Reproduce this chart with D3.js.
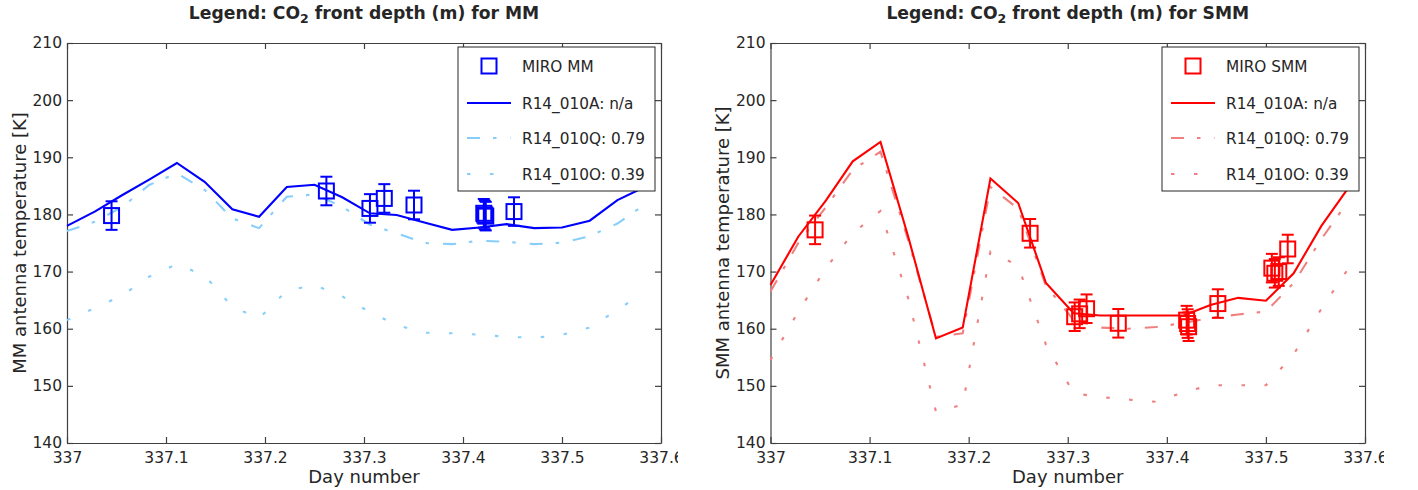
<!DOCTYPE html>
<html><head><meta charset="utf-8">
<script src="https://cdn.jsdelivr.net/npm/d3@7"></script>
<style>
body{margin:0;background:#fff}
svg{display:block}
text{font-family:"DejaVu Sans",sans-serif;fill:#262626}
</style>
</head><body>
<svg id="chart" width="1418" height="490"></svg>
<script>
// ---------------- data ----------------
const modelDays = [337.000, 337.028, 337.056, 337.083, 337.111, 337.139, 337.167, 337.194, 337.222, 337.250, 337.278,
                   337.306, 337.333, 337.361, 337.389, 337.417, 337.444, 337.472, 337.500, 337.528, 337.556, 337.583];

// MM panel
const mmModelA = [178.0, 180.5, 183.4, 186.1, 189.0, 185.7, 180.9, 179.6, 184.8, 185.2, 183.0,
                  180.2, 179.9, 178.6, 177.3, 177.7, 178.3, 177.6, 177.7, 178.9, 182.5, 184.75];
const mmModelQ = [177.1, 178.7, 181.35, 185.15, 187.2, 184.3, 179.3, 177.6, 183.1, 183.5, 181.35,
                  178.2, 176.7, 175.0, 174.8, 175.4, 175.2, 174.8, 175.05, 176.2, 178.4, 181.65];
const mmModelO = [161.5, 163.6, 165.85, 169.1, 171.3, 169.3, 163.85, 161.8, 166.65, 167.65, 165.65,
                  162.9, 160.65, 159.3, 159.2, 158.95, 158.6, 158.4, 158.95, 160.2, 163.3, 166.4];
const mmObsDays = [337.045, 337.262, 337.306, 337.3205, 337.3505, 337.421, 337.422, 337.423, 337.4515];
const mmObsTemp = [179.8, 184.1, 181.05, 182.8, 181.65, 180.2, 179.9, 179.7, 180.5];
const mmObsErr  = [2.5, 2.5, 2.5, 2.5, 2.5, 2.5, 2.5, 2.5, 2.5];

// SMM panel
const smmModelA = [167.65, 176.1, 182.45, 189.3, 192.7, 176.1, 158.3, 160.2, 186.3, 182.0, 168.0,
                   162.7, 162.3, 162.3, 162.3, 162.3, 164.15, 165.4, 164.9, 169.7, 178.0, 184.6];
const smmModelQ = [166.5, 175.0, 181.3, 187.8, 191.0, 175.5, 158.6, 159.2, 184.8, 181.0, 167.5,
                   161.5, 160.2, 160.0, 160.3, 161.0, 161.9, 162.5, 163.0, 168.0, 175.7, 182.3];
const smmModelO = [154.5, 163.0, 170.6, 176.7, 180.6, 165.3, 145.5, 146.7, 173.5, 171.0, 157.2,
                   148.7, 148.05, 147.6, 147.2, 148.9, 150.1, 150.1, 150.1, 155.5, 163.5, 170.5];
const smmObsDays = [337.045, 337.262, 337.307, 337.312, 337.319, 337.351, 337.420, 337.421, 337.422, 337.4515, 337.506, 337.509, 337.513, 337.522];
const smmObsTemp = [177.3, 176.7, 162.1, 162.6, 163.5, 160.95, 161.5, 160.9, 160.35, 164.4, 170.6, 169.7, 170.0, 173.95];
const smmObsErr  = [2.5, 2.5, 2.5, 2.5, 2.5, 2.5, 2.5, 2.5, 2.5, 2.5, 2.5, 2.5, 2.5, 2.5];

const xTicks = [337, 337.1, 337.2, 337.3, 337.4, 337.5, 337.6];
const xTickLabels = ["337", "337.1", "337.2", "337.3", "337.4", "337.5", "337.6"];
const yTicks = [140, 150, 160, 170, 180, 190, 200, 210];
const yTickLabels = ["140", "150", "160", "170", "180", "190", "200", "210"];

const mmLegend = ["MIRO MM", "R14_010A: n/a", "R14_010Q: 0.79", "R14_010O: 0.39"];
const smmLegend = ["MIRO SMM", "R14_010A: n/a", "R14_010Q: 0.79", "R14_010O: 0.39"];

// ---------------- drawing ----------------
const svg = d3.select("#chart");
const AXIS = "#404040";
const DASHDOT = "13,13,3.5,14";
const DOTTED = "3.5,19.5";

function panel(o) {
  const g = svg.append("g");
  const x = d3.scaleLinear().domain([337, 337.6]).range([o.left, o.right]);
  const y = d3.scaleLinear().domain([140, 210]).range([443, 43]);
  const fmtX = d => xTickLabels[xTicks.indexOf(d)];
  const fmtY = d => yTickLabels[yTicks.indexOf(d)];

  const clipId = "clip" + o.id;
  svg.append("defs").append("clipPath").attr("id", clipId)
    .append("rect").attr("x", o.left - 60).attr("y", -20).attr("width", o.clipRight - o.left + 60).attr("height", 60);

  const bottom = g.append("g").attr("transform", "translate(0,443)")
    .call(d3.axisBottom(x).tickValues(xTicks).tickFormat(fmtX).tickSizeInner(-6).tickSizeOuter(0).tickPadding(9))
    .attr("clip-path", `url(#${clipId})`);
  const top = g.append("g").attr("transform", "translate(0,43)")
    .call(d3.axisTop(x).tickValues(xTicks).tickFormat("").tickSizeInner(-6).tickSizeOuter(0));
  const left = g.append("g").attr("transform", `translate(${o.left},0)`)
    .call(d3.axisLeft(y).tickValues(yTicks).tickFormat(fmtY).tickSizeInner(-6).tickSizeOuter(0).tickPadding(5));
  const right = g.append("g").attr("transform", `translate(${o.right},0)`)
    .call(d3.axisRight(y).tickValues(yTicks).tickFormat("").tickSizeInner(-6).tickSizeOuter(0));
  [bottom, top, left, right].forEach(a => {
    a.selectAll("path.domain").attr("stroke", AXIS).attr("stroke-width", 1.2);
    a.selectAll(".tick line").attr("stroke", AXIS).attr("stroke-width", 1.2);
    a.selectAll("text").attr("font-family", "DejaVu Sans").attr("font-size", 15.5).attr("fill", "#262626");
  });

  g.append("text").attr("x", (o.left + o.right) / 2).attr("y", 483).attr("text-anchor", "middle")
    .attr("font-size", 18).text("Day number");
  g.append("text").attr("transform", `translate(${o.ylabelX},243) rotate(-90)`).attr("text-anchor", "middle")
    .attr("font-size", 18).text(o.ylabel);
  const t = g.append("text").attr("x", (o.left + o.right) / 2).attr("y", 19).attr("text-anchor", "middle")
    .attr("font-size", 17.2).attr("font-weight", "bold").attr("fill", "#000");
  t.append("tspan").text("Legend: CO");
  t.append("tspan").attr("font-size", 12.5).attr("dy", 4).text("2");
  t.append("tspan").attr("dy", -4).text(" front depth (m) for " + o.name);

  const line = vals => d3.line().x((d, i) => x(modelDays[i])).y(d => y(d))(vals);
  const lw = 2.1;
  g.append("path").attr("d", line(o.O)).attr("fill", "none").attr("stroke", o.light).attr("stroke-width", lw).attr("stroke-dasharray", DOTTED);
  g.append("path").attr("d", line(o.Q)).attr("fill", "none").attr("stroke", o.light).attr("stroke-width", lw).attr("stroke-dasharray", DASHDOT);
  g.append("path").attr("d", line(o.A)).attr("fill", "none").attr("stroke", o.main).attr("stroke-width", lw);

  const obs = o.obsDays.map((d, i) => ({d, t: o.obsT[i], e: o.obsE[i]}));
  const og = g.append("g").attr("stroke", o.main).attr("stroke-width", 2).attr("fill", "none");
  obs.forEach(p => {
    const cx = x(p.d), cy = y(p.t), y1 = y(p.t + p.e), y2 = y(p.t - p.e);
    og.append("line").attr("x1", cx).attr("x2", cx).attr("y1", y1).attr("y2", y2);
    og.append("line").attr("x1", cx - 6).attr("x2", cx + 6).attr("y1", y1).attr("y2", y1);
    og.append("line").attr("x1", cx - 6).attr("x2", cx + 6).attr("y1", y2).attr("y2", y2);
    og.append("rect").attr("x", cx - 7.5).attr("y", cy - 7.5).attr("width", 15).attr("height", 15);
  });

  const L = g.append("g").attr("transform", `translate(${o.legX},47)`);
  L.append("rect").attr("x", 0).attr("y", 0).attr("width", 197).attr("height", 144)
    .attr("fill", "#fff").attr("stroke", "#262626").attr("stroke-width", 1);
  const rows = [19, 56, 91, 127];
  L.append("rect").attr("x", 31 - 7.5).attr("y", rows[0] - 7.5).attr("width", 15).attr("height", 15)
    .attr("fill", "none").attr("stroke", o.main).attr("stroke-width", 2);
  L.append("line").attr("x1", 9).attr("x2", 53).attr("y1", rows[1]).attr("y2", rows[1]).attr("stroke", o.main).attr("stroke-width", 2);
  L.append("line").attr("x1", 9).attr("x2", 53).attr("y1", rows[2]).attr("y2", rows[2]).attr("stroke", o.light).attr("stroke-width", 2).attr("stroke-dasharray", DASHDOT);
  L.append("line").attr("x1", 9).attr("x2", 53).attr("y1", rows[3]).attr("y2", rows[3]).attr("stroke", o.light).attr("stroke-width", 2).attr("stroke-dasharray", DOTTED);
  o.legend.forEach((s, i) => {
    L.append("text").attr("x", 64).attr("y", rows[i]).attr("dy", "0.36em").attr("font-size", 15.3).attr("fill", "#000").text(s);
  });
}

panel({id: "mm", left: 67, right: 661, clipRight: 678, ylabelX: 26, ylabel: "MM antenna temperature [K]", name: "MM",
       main: "#0000ff", light: "#87cefa", A: mmModelA, Q: mmModelQ, O: mmModelO,
       obsDays: mmObsDays, obsT: mmObsTemp, obsE: mmObsErr, legend: mmLegend, legX: 458});
panel({id: "smm", left: 770.5, right: 1365, clipRight: 1384, ylabelX: 729, ylabel: "SMM antenna temperature [K]", name: "SMM",
       main: "#ff0000", light: "#f08080", A: smmModelA, Q: smmModelQ, O: smmModelO,
       obsDays: smmObsDays, obsT: smmObsTemp, obsE: smmObsErr, legend: smmLegend, legX: 1162});
</script>
</body></html>
